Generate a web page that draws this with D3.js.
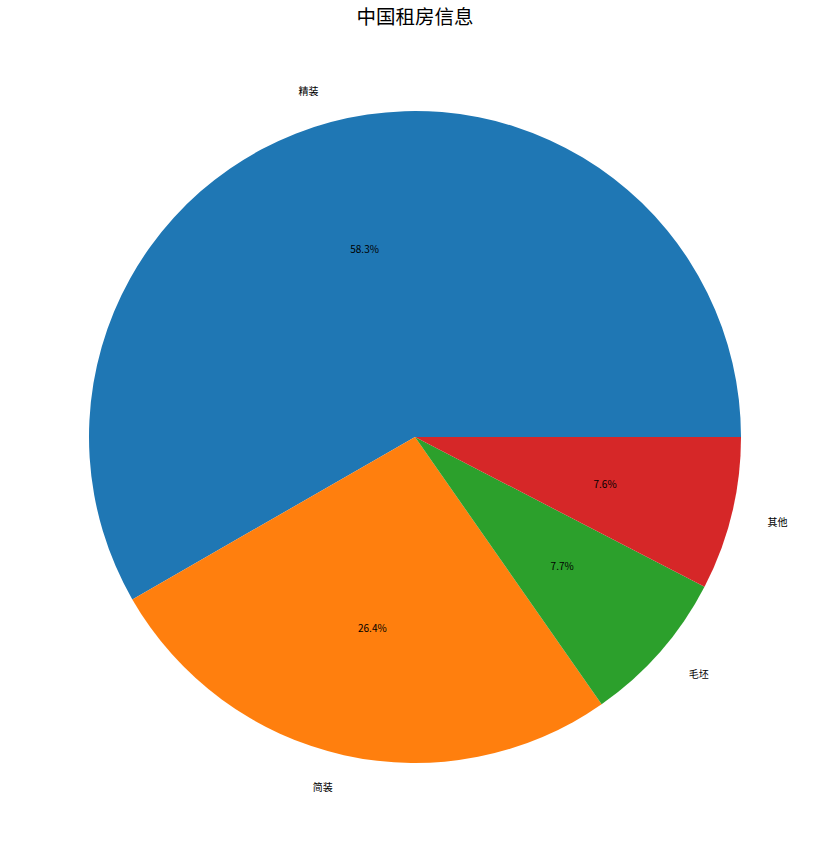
<!DOCTYPE html>
<html><head><meta charset="utf-8">
<script src="https://cdn.jsdelivr.net/npm/d3@7"></script>
<style>body{margin:0;background:#fff}svg{display:block}</style>
</head><body>
<svg id="c" width="829" height="852"></svg>
<script>
const categories = ["精装","简装","毛坯","其他"];
const values = [58.3, 26.4, 7.7, 7.6];
const colors = ["#1f77b4","#ff7f0e","#2ca02c","#d62728"];
const title = "中国租房信息";

const svg = d3.select("#c");
const cx = 415, cy = 437, R = 326;
const font = "'Noto Sans CJK SC', 'DejaVu Sans', sans-serif";

svg.append("text").attr("x", 415).attr("y", 24).attr("text-anchor","middle")
  .attr("font-family", font).attr("font-size", 19.5).attr("fill","#000").text(title);

const pie = d3.pie().sort(null).value(d => d)
  .startAngle(Math.PI/2).endAngle(Math.PI/2 - 2*Math.PI);
const arcs = pie(values);
const arc = d3.arc().innerRadius(0).outerRadius(R);
const g = svg.append("g").attr("transform", `translate(${cx},${cy})`);
g.selectAll("path").data(arcs).join("path")
  .attr("d", arc).attr("fill", (d,i) => colors[i]);

const lab = d3.arc().innerRadius(R*1.1).outerRadius(R*1.1);
const pct = d3.arc().innerRadius(R*0.6).outerRadius(R*0.6);
g.selectAll("text.lab").data(arcs).join("text").attr("class","lab")
  .attr("transform", d => { const c = lab.centroid(d); return `translate(${c[0] + (c[0] > 0 ? 4 : -4)},${c[1]})`; })
  .attr("text-anchor", d => lab.centroid(d)[0] > 0 ? "start" : "end")
  .attr("dominant-baseline","central")
  .attr("font-family", font).attr("font-size", 10).attr("fill","#000")
  .text((d,i) => categories[i]);
g.selectAll("text.pct").data(arcs).join("text").attr("class","pct")
  .attr("transform", d => `translate(${pct.centroid(d)})`)
  .attr("text-anchor","middle").attr("dominant-baseline","central")
  .attr("font-family", font).attr("font-size", 10).attr("fill","#000")
  .text(d => d.data.toFixed(1) + "%");
</script>
</body></html>
